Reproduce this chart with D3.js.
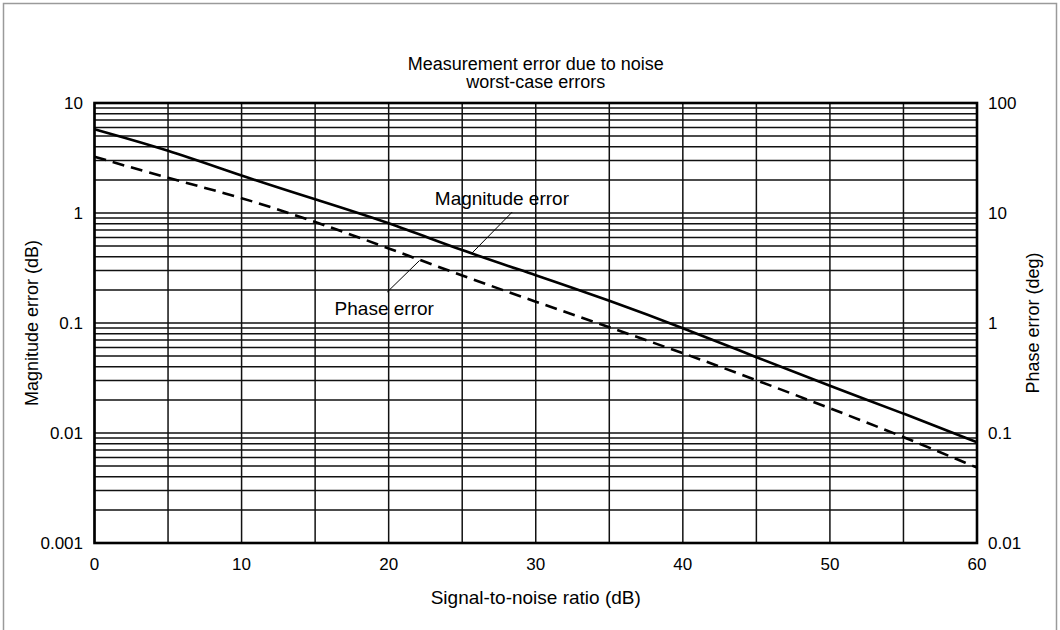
<!DOCTYPE html>
<html>
<head>
<meta charset="utf-8">
<script src="https://cdn.jsdelivr.net/npm/d3@7"></script>
<style>
  body { margin: 0; background: white; }
  svg { display: block; font-family: 'Liberation Sans', Arial, sans-serif; }
</style>
</head>
<body>
<div id="chart"></div>
<script>
const width = 1060
const height = 630
const margin = {top: 103, right: 83, bottom: 87, left: 94.5}

// signal-to-noise ratio (dB)
const snr = [0, 5, 10, 15, 20, 25, 30, 35, 40, 45, 50, 55, 60]
// worst-case magnitude error (dB), left axis
const magError = [5.77, 3.75, 2.17, 1.33, 0.82, 0.454, 0.273, 0.160, 0.0904, 0.0488, 0.0267, 0.0151, 0.00823]
// worst-case phase error (deg), right axis
const phaseError = [32.5, 20.7, 13.9, 8.34, 4.78, 2.69, 1.56, 0.914, 0.534, 0.303, 0.168, 0.0925, 0.0484]

const xTicks = [0, 10, 20, 30, 40, 50, 60]
const xGrid = [0, 5, 10, 15, 20, 25, 30, 35, 40, 45, 50, 55, 60]
const leftTicks = [10, 1, 0.1, 0.01, 0.001]
const leftTickLabels = ['10', '1', '0.1', '0.01', '0.001']
const rightTicks = [100, 10, 1, 0.1, 0.01]
const rightTickLabels = ['100', '10', '1', '0.1', '0.01']

const svg = d3.select('#chart').append('svg')
	.attr('width', width)
	.attr('height', height)

// frame around the picture
svg.append('rect')
	.attr('x', 3.5).attr('y', 3.5)
	.attr('width', width - 7).attr('height', height + 20)
	.style('fill', 'none')
	.style('stroke', '#9a9a9a')
	.style('stroke-width', 1.5)

var x = d3.scaleLinear()
	.domain([0, 60])
	.range([margin.left, width - margin.right])
var yL = d3.scaleLog()
	.domain([0.001, 10])
	.range([height - margin.bottom, margin.top])
var yR = d3.scaleLog()
	.domain([0.01, 100])
	.range([height - margin.bottom, margin.top])

// horizontal grid: 1..9 in every decade
var hLines = []
for (let dec = 0.001; dec < 10; dec *= 10) {
	for (let k = 1; k < 10; k++) hLines.push(+(k * dec).toPrecision(3))
}
hLines.push(10)

var g = svg.append('g')
g.selectAll('.hgrid')
	.data(hLines)
	.enter()
	.append('line')
	.attr('class', 'hgrid')
	.attr('x1', x(0)).attr('x2', x(60))
	.attr('y1', d => yL(d)).attr('y2', d => yL(d))
	.style('stroke', '#111')
	.style('stroke-width', 1.5)

g.selectAll('.vgrid')
	.data(xGrid)
	.enter()
	.append('line')
	.attr('class', 'vgrid')
	.attr('x1', d => x(d)).attr('x2', d => x(d))
	.attr('y1', yL(10)).attr('y2', yL(0.001))
	.style('stroke', '#111')
	.style('stroke-width', 1.5)

// plot border
g.append('rect')
	.attr('x', x(0)).attr('y', yL(10))
	.attr('width', x(60) - x(0))
	.attr('height', yL(0.001) - yL(10))
	.style('fill', 'none')
	.style('stroke', '#000')
	.style('stroke-width', 2.6)

// the two curves (basis curve smooths out reading noise)
var magLine = d3.line()
	.x((d, i) => x(snr[i]))
	.y(d => yL(d))
	.curve(d3.curveBasis)
var phaseLine = d3.line()
	.x((d, i) => x(snr[i]))
	.y(d => yR(d))
	.curve(d3.curveBasis)

g.append('path')
	.attr('d', magLine(magError))
	.style('fill', 'none')
	.style('stroke', '#000')
	.style('stroke-width', 2.6)
g.append('path')
	.attr('d', phaseLine(phaseError))
	.style('fill', 'none')
	.style('stroke', '#000')
	.style('stroke-width', 2.6)
	.style('stroke-dasharray', '12,7')

// tick labels
var fs = 17
svg.selectAll('.xlab')
	.data(xTicks)
	.enter()
	.append('text')
	.attr('class', 'xlab')
	.attr('x', d => x(d))
	.attr('y', yL(0.001) + 27)
	.attr('text-anchor', 'middle')
	.style('font-size', fs + 'px')
	.text(d => d)

svg.selectAll('.ylab')
	.data(leftTicks)
	.enter()
	.append('text')
	.attr('class', 'ylab')
	.attr('x', 83)
	.attr('y', d => yL(d) + 6)
	.attr('text-anchor', 'end')
	.style('font-size', fs + 'px')
	.text((d, i) => leftTickLabels[i])

svg.selectAll('.rlab')
	.data(rightTicks)
	.enter()
	.append('text')
	.attr('class', 'rlab')
	.attr('x', 988)
	.attr('y', d => yR(d) + 6)
	.attr('text-anchor', 'start')
	.style('font-size', fs + 'px')
	.text((d, i) => rightTickLabels[i])

// titles
var midX = (x(0) + x(60)) / 2
var midY = (yL(10) + yL(0.001)) / 2
svg.append('text')
	.attr('x', midX).attr('y', 70)
	.attr('text-anchor', 'middle')
	.style('font-size', '18px')
	.text('Measurement error due to noise')
svg.append('text')
	.attr('x', midX).attr('y', 88)
	.attr('text-anchor', 'middle')
	.style('font-size', '18px')
	.text('worst-case errors')
svg.append('text')
	.attr('x', midX).attr('y', 604)
	.attr('text-anchor', 'middle')
	.style('font-size', '19px')
	.text('Signal-to-noise ratio (dB)')
svg.append('text')
	.attr('transform', 'translate(38,' + midY + ') rotate(-90)')
	.attr('text-anchor', 'middle')
	.style('font-size', '18px')
	.text('Magnitude error (dB)')
svg.append('text')
	.attr('transform', 'translate(1039,' + midY + ') rotate(-90)')
	.attr('text-anchor', 'middle')
	.style('font-size', '18px')
	.text('Phase error (deg)')

// curve annotations with leader lines (data coordinates)
const annSnr = [27.7, 19.7]
const annVal = [1.37, 0.137]
const annText = ['Magnitude error', 'Phase error']
const leadFrom = [[28.4, 1.02], [19.9, 0.191]]
const leadTo = [[25.65, 0.43], [22.1, 0.37]]

svg.selectAll('.ann')
	.data(annText)
	.enter()
	.append('text')
	.attr('class', 'ann')
	.attr('x', (d, i) => x(annSnr[i]))
	.attr('y', (d, i) => yL(annVal[i]) + 7)
	.attr('text-anchor', 'middle')
	.style('font-size', '19px')
	.text(d => d)
svg.selectAll('.lead')
	.data(leadFrom)
	.enter()
	.append('line')
	.attr('class', 'lead')
	.attr('x1', d => x(d[0])).attr('y1', d => yL(d[1]))
	.attr('x2', (d, i) => x(leadTo[i][0])).attr('y2', (d, i) => yL(leadTo[i][1]))
	.style('stroke', '#000')
	.style('stroke-width', 1)
</script>
</body>
</html>
